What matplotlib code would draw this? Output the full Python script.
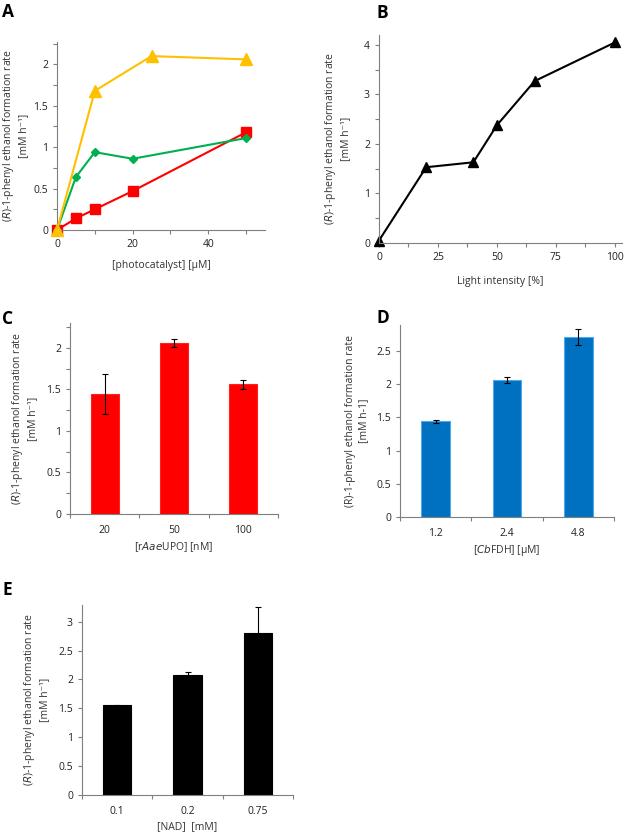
import matplotlib
matplotlib.use("Agg")
import matplotlib.pyplot as plt
from matplotlib.ticker import MultipleLocator

plt.rcParams['font.family'] = ['Open Sans', 'DejaVu Sans']
plt.rcParams['font.size'] = 7.5

W, H = 625, 835

# panel A
a_yellow_x = [0, 10, 25, 50]
a_yellow_y = [0, 1.68, 2.10, 2.06]
a_green_x = [0, 5, 10, 20, 50]
a_green_y = [0, 0.64, 0.94, 0.86, 1.11]
a_red_x = [0, 5, 10, 20, 50]
a_red_y = [0, 0.14, 0.25, 0.47, 1.18]

# panel B
b_x = [0, 20, 40, 50, 66, 100]
b_y = [0.05, 1.53, 1.63, 2.38, 3.27, 4.05]

# panel C
c_labels = ['20', '50', '100']
c_vals = [1.44, 2.06, 1.56]
c_err = [0.24, 0.05, 0.05]

# panel D
d_labels = ['1.2', '2.4', '4.8']
d_vals = [1.44, 2.06, 2.71]
d_err = [0.02, 0.05, 0.12]

# panel E
e_labels = ['0.1', '0.2', '0.75']
e_vals = [1.55, 2.07, 2.81]
e_err = [0.01, 0.06, 0.44]

YLAB = "($\\it{R}$)-1-phenyl ethanol formation rate\n[mM h⁻¹]"
AXC = '#7f7f7f'
TXT = '#333333'

fig = plt.figure(figsize=(W / 100, H / 100), dpi=100)


def px_axes(left, top, right, bottom):
    ax = fig.add_axes([left / W, 1 - bottom / H, (right - left) / W, (bottom - top) / H])
    ax._px = (left, right)
    for s in ['top', 'right']:
        ax.spines[s].set_visible(False)
    for s in ['left', 'bottom']:
        ax.spines[s].set_color(AXC)
        ax.spines[s].set_linewidth(0.8)
    ax.tick_params(colors=AXC, labelcolor='#222222', length=3, width=0.8, labelsize=7.5)
    ax.tick_params(which='minor', colors=AXC, length=3, width=0.8)
    return ax


def ylab(ax, text, x_right):
    # x_right: pixel position of the right edge of the label block
    left, right = ax._px
    ax.set_ylabel(text, color=TXT, fontsize=7.5, linespacing=1.3)
    ax.yaxis.set_label_coords((x_right - left) / (right - left), 0.5)


def bar_panel(ax, labels, vals, err, color, edge, ymax, step, minor=None):
    xs = list(range(len(vals)))
    ax.bar(xs, vals, width=0.4, color=color, edgecolor=edge, linewidth=0.8, zorder=2)
    ax.errorbar(xs, vals, yerr=err, fmt='none', ecolor='black', elinewidth=0.8,
                capsize=2.5, capthick=0.8, zorder=3)
    ax.set_xlim(-0.5, len(vals) - 0.5)
    ax.set_ylim(0, ymax)
    ax.yaxis.set_major_locator(MultipleLocator(step))
    if minor:
        ax.yaxis.set_minor_locator(MultipleLocator(minor))
    ax.set_xticks(xs)
    ax.set_xticklabels(labels)
    ax.set_xticks([x + 0.5 for x in [-1] + xs], minor=True)
    ax.tick_params(axis='x', which='major', length=0, pad=8)
    ax.tick_params(axis='x', which='minor', length=3)
    ax.yaxis.set_major_formatter(plt.FuncFormatter(lambda v, p: f"{v:g}"))


# A
axA = px_axes(57, 42, 265, 230)
axA.plot(a_yellow_x, a_yellow_y, color='#FFC000', marker='^', markersize=8, lw=1.5, zorder=3, clip_on=False)
axA.plot(a_green_x, a_green_y, color='#00B050', marker='D', markersize=4.5, lw=1.5, zorder=2, clip_on=False)
axA.plot(a_red_x, a_red_y, color='#FF0000', marker='s', markersize=6.5, lw=1.5, zorder=1, clip_on=False)
axA.set_xlim(0, 55)
axA.set_ylim(0, 2.27)
axA.xaxis.set_major_locator(MultipleLocator(20))
axA.xaxis.set_minor_locator(MultipleLocator(10))
axA.yaxis.set_major_locator(MultipleLocator(0.5))
axA.yaxis.set_minor_locator(MultipleLocator(0.25))
axA.yaxis.set_major_formatter(plt.FuncFormatter(lambda v, p: f"{v:g}"))
axA.set_xlabel("[photocatalyst] [µM]", color=TXT, labelpad=7)
ylab(axA, YLAB, 29)

# B
axB = px_axes(379, 35, 622, 243)
axB.plot(b_x, b_y, color='black', marker='^', markersize=7, lw=1.5, clip_on=False)
axB.set_xlim(0, 103)
axB.set_ylim(0, 4.2)
axB.xaxis.set_major_locator(MultipleLocator(25))
axB.xaxis.set_minor_locator(MultipleLocator(12.5))
axB.yaxis.set_major_locator(MultipleLocator(1))
axB.yaxis.set_minor_locator(MultipleLocator(0.5))
axB.set_xlabel("Light intensity [%]", color=TXT, labelpad=9)
ylab(axB, YLAB, 351)

# C
axC = px_axes(70, 323, 278, 514)
bar_panel(axC, c_labels, c_vals, c_err, '#FF0000', '#FF2020', 2.3, 0.5, 0.25)
axC.set_xlabel("[r$\\it{Aae}$UPO] [nM]", color=TXT, labelpad=3)
ylab(axC, YLAB, 38)

# D
axD = px_axes(400, 325, 614, 517)
bar_panel(axD, d_labels, d_vals, d_err, '#0070C0', '#4FA8E8', 2.89, 0.5)
axD.set_xlabel("[$\\it{Cb}$FDH] [µM]", color=TXT, labelpad=3)
ylab(axD, "(R)-1-phenyl ethanol formation rate\n[mM h-1]", 369)

# E
axE = px_axes(82, 605, 293, 795)
bar_panel(axE, e_labels, e_vals, e_err, 'black', 'black', 3.29, 0.5)
axE.set_xlabel("[NAD]  [mM]", color=TXT, labelpad=3)
ylab(axE, YLAB, 50)

# panel letters
for letter, x, y in [('A', 2, 12), ('B', 376, 13), ('C', 2, 319), ('D', 376, 318), ('E', 2, 590)]:
    fig.text(x / W, 1 - y / H, letter, fontsize=12.5, fontweight='bold', va='center', ha='left')

fig.savefig("out.png", dpi=100)
